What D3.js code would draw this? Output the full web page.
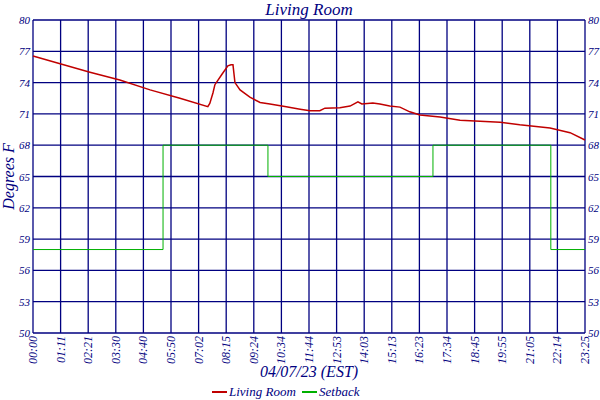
<!DOCTYPE html>
<html><head><meta charset="utf-8">
<script src="https://cdn.jsdelivr.net/npm/d3@7"></script>
<style>
body{margin:0;background:#fff}
text{font-family:"Liberation Serif",serif;font-style:italic;fill:#000080}
</style></head>
<body><div class="draw"></div>
<script>
const width = 600, height = 400
const margin = {top: 20, right: 15, bottom: 67, left: 33}

// x tick labels (evenly spaced across the day)
const tickLabels = ["00:00","01:11","02:21","03:30","04:40","05:50","07:02","08:15","09:24","10:34",
  "11:44","12:53","14:03","15:13","16:23","17:34","18:45","19:55","21:05","22:14","23:25"]
const yTicks = [50,53,56,59,62,65,68,71,74,77,80]
const endMinute = 1405

// Living Room temperature: minutes after midnight, degrees F
const roomMinutes = [0,69,145,221,298,374,445,450,458,463,481,496,504,509,514,527,552,578,603,641,680,705,730,743,781,807,827,837,865,883,908,934,959,985,1036,1087,1189,1239,1316,1367,1405]
const roomTemps = [76.55,75.8,75.0,74.25,73.3,72.5,71.7,72.0,73.0,73.8,74.8,75.6,75.7,75.7,74.0,73.3,72.6,72.1,71.95,71.7,71.45,71.3,71.3,71.55,71.6,71.75,72.15,71.95,72.05,71.95,71.75,71.65,71.2,70.9,70.7,70.4,70.2,69.95,69.65,69.2,68.5]

// Setback schedule: step function
const setMinutes = [0,331,598,1018,1318,1405]
const setTemps = [58,68,65,68,58,58]

const svg = d3.select("div.draw").append("svg").attr("width", width).attr("height", height)

const x = d3.scaleLinear().domain([0, endMinute]).range([margin.left, width - margin.right])
const y = d3.scaleLinear().domain([50, 80]).range([height - margin.bottom, margin.top])
const tickPos = tickLabels.map((d, i) => i * endMinute / (tickLabels.length - 1))

// grid
svg.append("g").selectAll("line").data(tickPos).enter().append("line")
  .attr("x1", d => x(d)).attr("x2", d => x(d)).attr("y1", y(50)).attr("y2", y(80))
  .attr("stroke", "#000080").attr("stroke-width", 1.3)
svg.append("g").selectAll("line").data(yTicks).enter().append("line")
  .attr("x1", x(0)).attr("x2", x(endMinute)).attr("y1", d => y(d)).attr("y2", d => y(d))
  .attr("stroke", "#000080").attr("stroke-width", 1.3)

// y labels both sides
svg.append("g").selectAll("text").data(yTicks).enter().append("text")
  .attr("x", x(0) - 3).attr("y", d => y(d) + 4).attr("text-anchor", "end")
  .style("font-size", "11px").text(d => d)
svg.append("g").selectAll("text").data(yTicks).enter().append("text")
  .attr("x", x(endMinute) + 3).attr("y", d => y(d) + 4)
  .style("font-size", "11px").text(d => d)

// x labels rotated
svg.append("g").selectAll("text").data(tickLabels).enter().append("text")
  .attr("transform", (d, i) => "translate(" + (x(tickPos[i]) + 4) + "," + (y(50) + 3) + ") rotate(-90)")
  .attr("text-anchor", "end").style("font-size", "12px").text(d => d)

// setback
const setData = setMinutes.map((m, i) => [m, setTemps[i]])
svg.append("path").datum(setData)
  .attr("d", d3.line().x(d => x(d[0])).y(d => y(d[1])).curve(d3.curveStepAfter))
  .attr("fill", "none").attr("stroke", "#00b000").attr("stroke-width", 1)

// living room
const roomData = roomMinutes.map((m, i) => [m, roomTemps[i]])
svg.append("path").datum(roomData)
  .attr("d", d3.line().x(d => x(d[0])).y(d => y(d[1])))
  .attr("fill", "none").attr("stroke", "#c00000").attr("stroke-width", 1.5)

// titles
svg.append("text").attr("x", (x(0) + x(endMinute)) / 2).attr("y", 15).attr("text-anchor", "middle")
  .style("font-size", "17px").text("Living Room")
svg.append("text").attr("x", (x(0) + x(endMinute)) / 2).attr("y", 377).attr("text-anchor", "middle")
  .style("font-size", "16px").text("04/07/23 (EST)")
svg.append("text").attr("transform", "translate(14," + y(65) + ") rotate(-90)").attr("text-anchor", "middle")
  .style("font-size", "16px").text("Degrees F")

// legend
const legend = [["Living Room", "#c00000", 212], ["Setback", "#00b000", 302]]
legend.forEach(l => {
  svg.append("line").attr("x1", l[2]).attr("x2", l[2] + 15).attr("y1", 392).attr("y2", 392)
    .attr("stroke", l[1]).attr("stroke-width", 2)
  svg.append("text").attr("x", l[2] + 17).attr("y", 396).style("font-size", "13px").text(l[0])
})
</script></body></html>
